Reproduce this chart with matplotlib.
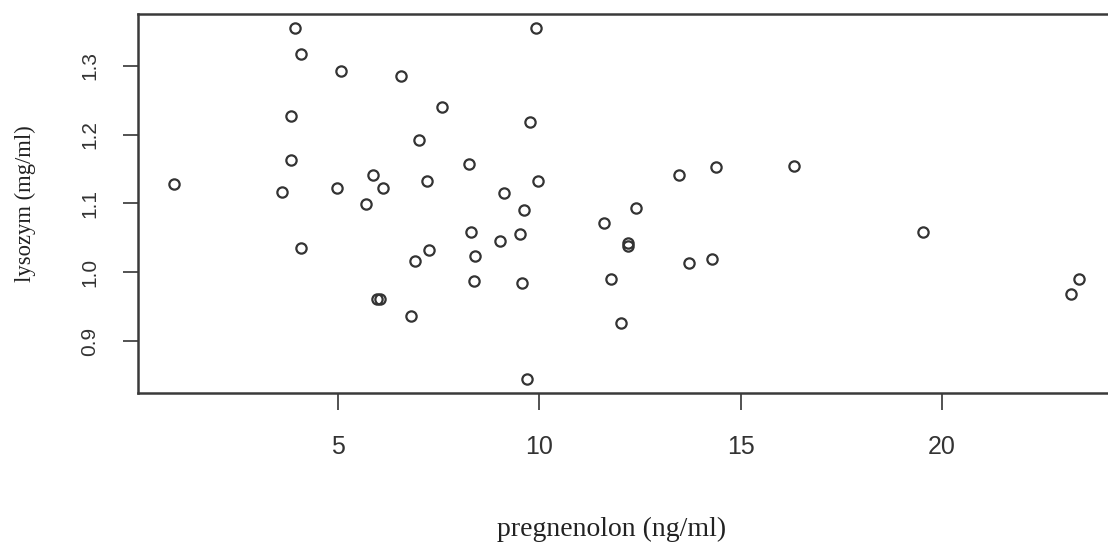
import matplotlib
matplotlib.use("Agg")
import matplotlib.pyplot as plt

pregnenolon = [0.93, 3.60, 3.84, 3.84, 3.92, 4.07, 4.07, 4.97, 5.08, 5.70,
               5.88, 5.97, 6.03, 6.11, 6.57, 6.80, 6.90, 7.00, 7.22, 7.25,
               7.58, 8.26, 8.31, 8.37, 8.41, 9.03, 9.13, 9.51, 9.56, 9.63,
               9.69, 9.78, 9.92, 9.97, 11.60, 11.79, 12.02, 12.20, 12.21, 12.39,
               13.47, 13.72, 14.30, 14.40, 16.32, 19.52, 23.21, 23.40]
lysozym = [1.129, 1.117, 1.227, 1.163, 1.355, 1.317, 1.035, 1.123, 1.293, 1.0995,
           1.142, 0.961, 0.961, 1.123, 1.285, 0.937, 1.016, 1.192, 1.133, 1.033,
           1.240, 1.157, 1.059, 0.987, 1.024, 1.045, 1.115, 1.056, 0.984, 1.091,
           0.846, 1.218, 1.354, 1.133, 1.072, 0.990, 0.926, 1.043, 1.039, 1.094,
           1.142, 1.014, 1.019, 1.153, 1.155, 1.059, 0.968, 0.990]

xticks = [5, 10, 15, 20]
yticks = [0.9, 1.0, 1.1, 1.2, 1.3]
ytick_labels = ["0.9", "1.0", "1.1", "1.2", "1.3"]
xlabel = "pregnenolon (ng/ml)"
ylabel = "lysozym (mg/ml)"

W, H = 1108, 544
fig = plt.figure(figsize=(W / 100, H / 100), dpi=100)
left, right, top, bottom = 138, 1115, 14, 393
ax = fig.add_axes([left / W, 1 - bottom / H, (right - left) / W, (bottom - top) / H])

ax.plot(pregnenolon, lysozym, linestyle="none", marker="o", markersize=7.4,
        markerfacecolor="none", markeredgecolor="#333333", markeredgewidth=1.6)

ax.set_xlim(0.03, 24.3)
ax.set_ylim(0.825, 1.375)

for s in ax.spines.values():
    s.set_color("#3a3a3a")
    s.set_linewidth(1.8)

ax.set_xticks(xticks)
ax.set_xticklabels([str(t) for t in xticks], fontfamily="Liberation Sans",
                   fontsize=18, color="#333333")
ax.set_yticks(yticks)
ax.set_yticklabels(ytick_labels, fontfamily="Liberation Sans", fontsize=15,
                   color="#333333", rotation=90, va="center")
ax.tick_params(axis="x", length=12, width=1.3, color="#444444", pad=18)
ax.tick_params(axis="y", length=11, width=1.3, color="#444444", pad=17)

fig.text(612 / W, 1 - 529 / H, xlabel,
         fontfamily="Liberation Serif", fontsize=20, color="#222222",
         ha="center", va="center")
fig.text(25 / W, 1 - 204 / H, ylabel, fontfamily="Liberation Serif",
         fontsize=16.3, color="#222222", ha="center", va="center", rotation=90)

fig.savefig("out.png", dpi=100, facecolor="white")
